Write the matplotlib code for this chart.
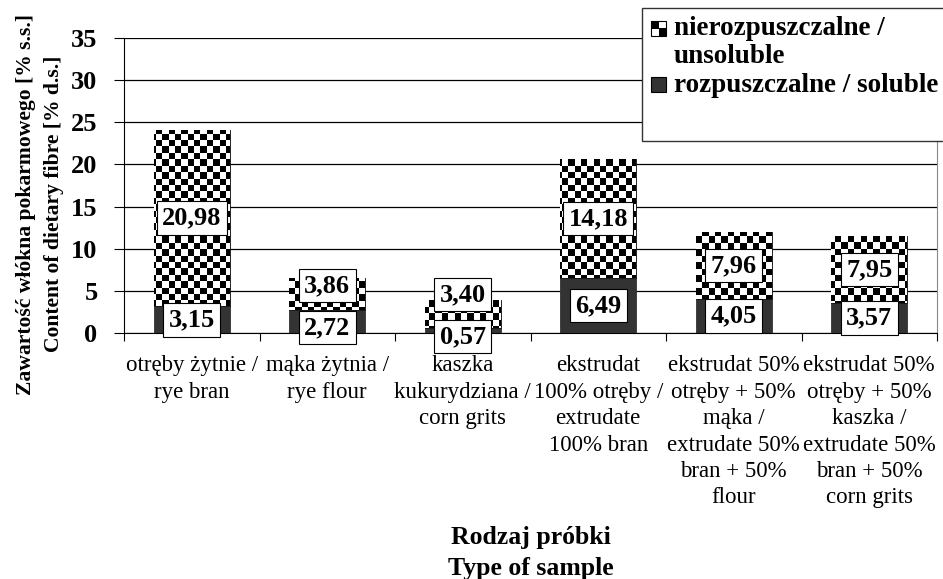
import numpy as np
import matplotlib.pyplot as plt
from matplotlib.patches import Rectangle

plt.rcParams['font.family'] = ['Liberation Serif', 'DejaVu Serif']

categories = ['otręby żytnie /\nrye bran',
              'mąka żytnia /\nrye flour',
              'kaszka\nkukurydziana /\ncorn grits',
              'ekstrudat\n100% otręby /\nextrudate\n100% bran',
              'ekstrudat 50%\notręby + 50%\nmąka /\nextrudate 50%\nbran + 50%\nflour',
              'ekstrudat 50%\notręby + 50%\nkaszka /\nextrudate 50%\nbran + 50%\ncorn grits']
soluble = [3.15, 2.72, 0.57, 6.49, 4.05, 3.57]
insoluble = [20.98, 3.86, 3.40, 14.18, 7.96, 7.95]
legend_lines = [['nierozpuszczalne /', 'unsoluble'], ['rozpuszczalne / soluble']]


def fmt(v):
    return ('%.2f' % v).replace('.', ',')


W, H = 943, 579
fig = plt.figure(figsize=(W / 100, H / 100), dpi=100)
ax = fig.add_axes([124 / W, 1 - 333 / H, 813 / W, 295 / H])

x = np.arange(len(categories))
w = 0.56
b1 = ax.bar(x, soluble, w, color='#333333', edgecolor='#333333', lw=0.6, zorder=2)
b2 = ax.bar(x, insoluble, w, bottom=soluble, color='white', edgecolor='black',
            lw=0.6, zorder=2)

# checkerboard fill for the insoluble part
nx, ny = 128, 46
ii, jj = np.meshgrid(np.arange(nx), np.arange(ny))
checker = ((ii + jj) % 2).astype(float)
for bar in b2:
    im = ax.imshow(checker, cmap='gray', vmin=0, vmax=1, extent=(-0.5, 5.5, 0, 35),
                   aspect='auto', interpolation='nearest', origin='lower', zorder=2.5)
    im.set_clip_path(bar)

ax.set_xlim(-0.5, len(categories) - 0.5)
ax.set_ylim(0, 35)
ax.set_yticks(np.arange(0, 36, 5))
ax.yaxis.grid(True, color='black', lw=0.9)
ax.set_axisbelow(True)
ax.spines['top'].set_visible(False)
ax.spines['right'].set_color('#888888')
ax.tick_params(axis='y', direction='out', length=7, labelsize=19, pad=12)
for t in ax.get_yticklabels():
    t.set_fontweight('bold')

ax.set_xticks(np.arange(len(categories) + 1) - 0.5)
ax.set_xticklabels([])
ax.tick_params(axis='x', which='major', direction='out', length=6)
ax.set_xticks(x, minor=True)
ax.set_xticklabels(categories, minor=True, fontsize=16.5, linespacing=1.34, va='top')
ax.tick_params(axis='x', which='minor', length=0, pad=16)

# value labels, pushed apart where the boxes would overlap
box = dict(boxstyle='square,pad=0.2', fc='white', ec='black', lw=0.8)
px_per_unit = 295 / 35
box_h = 42
for i in range(len(categories)):
    c_lo = soluble[i] / 2
    c_hi = soluble[i] + insoluble[i] / 2
    gap = (c_hi - c_lo) * px_per_unit
    off_lo, off_hi = 0, 0
    if gap < box_h:
        need = box_h - gap
        off_lo = -min(need, 6)
        off_hi = need + off_lo
    ax.annotate(fmt(soluble[i]), (x[i], c_lo), xytext=(0, off_lo),
                textcoords='offset pixels', ha='center', va='center',
                fontsize=19, fontweight='bold', bbox=box, zorder=5)
    ax.annotate(fmt(insoluble[i]), (x[i], c_hi), xytext=(0, off_hi),
                textcoords='offset pixels', ha='center', va='center',
                fontsize=19, fontweight='bold', bbox=box, zorder=5)

ax.set_ylabel('Zawartość włókna pokarmowego [% s.s.]\nContent of dietary fibre [% d.s.]',
              fontsize=15.6, fontweight='bold', linespacing=1.5)
ax.yaxis.set_label_coords(-0.074, 0.437)
ax.set_xlabel('Rodzaj próbki\nType of sample', fontsize=18.5, fontweight='bold',
              linespacing=1.45)
ax.xaxis.set_label_coords(0.5, -0.655)

# legend box (runs off the right edge, as in the original)
fig.patches.append(Rectangle((642 / W, 1 - 141 / H), 0.4, 133 / H,
                             transform=fig.transFigure, fc='white', ec='#333333',
                             lw=1.0, zorder=3))
s = 15
mk_x = 651
# checker marker
fig.patches.append(Rectangle((mk_x / W, 1 - (21 + s) / H), s / W, s / H,
                             transform=fig.transFigure, fc='white', ec='black',
                             lw=0.8, zorder=4))
for dx, dy in [(0, 0), (s / 2, s / 2)]:
    fig.patches.append(Rectangle(((mk_x + dx) / W, 1 - (21 + s / 2 + dy) / H),
                                 s / 2 / W, s / 2 / H, transform=fig.transFigure,
                                 fc='black', ec='none', zorder=4))
# solid marker
fig.patches.append(Rectangle((mk_x / W, 1 - (77 + s) / H), s / W, s / H,
                             transform=fig.transFigure, fc='#333333', ec='black',
                             lw=0.8, zorder=4))
baselines = [[35, 63], [92]]
for lines, bls in zip(legend_lines, baselines):
    for txt, bl in zip(lines, bls):
        fig.text(674 / W, 1 - bl / H, txt, fontsize=19.5, fontweight='bold',
                 va='baseline', ha='left', zorder=5)

fig.savefig('out.png', dpi=100)
